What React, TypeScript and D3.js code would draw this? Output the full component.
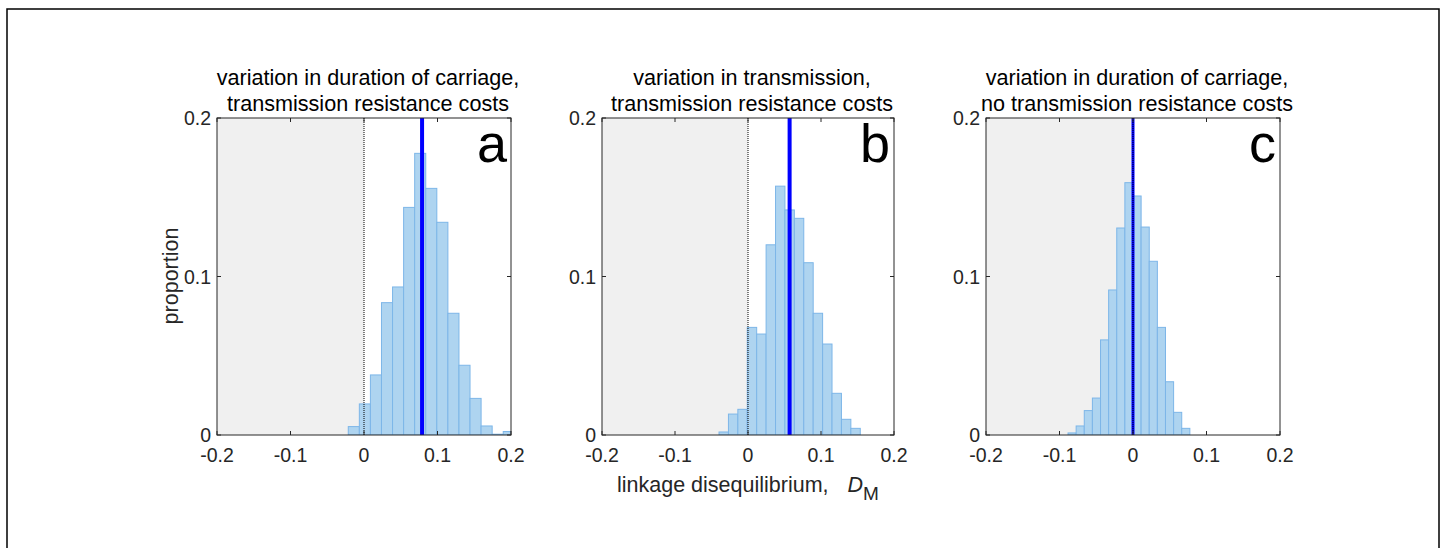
import React from "react";
import * as d3 from "d3";

// ---------- data ----------
const panelLetters = ["a", "b", "c"];
const titleLines = [
  ["variation in duration of carriage,", "transmission resistance costs"],
  ["variation in transmission,", "transmission resistance costs"],
  ["variation in duration of carriage,", "no transmission resistance costs"],
];
const xTickValues = [-0.2, -0.1, 0, 0.1, 0.2];
const xTickLabels = ["-0.2", "-0.1", "0", "0.1", "0.2"];
const yTickValues = [0, 0.1, 0.2];
const yTickLabels = ["0", "0.1", "0.2"];

const proportionsA = [0.0053, 0.0196, 0.0379, 0.0835, 0.0934, 0.1436, 0.1777, 0.1556, 0.1342, 0.0768, 0.044, 0.0231, 0.0057, 0.0005, 0.0022];
const firstEdgeA = -0.0214;
const binWidthA = 0.01506;
const meanA = 0.079;

const proportionsB = [0.0019, 0.0132, 0.0162, 0.0679, 0.0637, 0.12, 0.157, 0.142, 0.1367, 0.1087, 0.0768, 0.0574, 0.0263, 0.0099, 0.0042];
const firstEdgeB = -0.0397;
const binWidthB = 0.0129;
const meanB = 0.057;

const proportionsC = [0.0013, 0.0057, 0.0154, 0.0233, 0.06, 0.0915, 0.1306, 0.1592, 0.1508, 0.1312, 0.1096, 0.0679, 0.0336, 0.0143, 0.0042];
const firstEdgeC = -0.0884;
const binWidthC = 0.01105;
const meanC = 0.0;

const panelsData = [
  { values: proportionsA, start: firstEdgeA, width: binWidthA, mean: meanA },
  { values: proportionsB, start: firstEdgeB, width: binWidthB, mean: meanB },
  { values: proportionsC, start: firstEdgeC, width: binWidthC, mean: meanC },
];

// ---------- layout ----------
const W = 1445;
const H = 548;
const axLefts = [217, 602, 986];
const axWidths = [294, 292, 294];
const axTop = 118;
const axBottom = 435;
const FONT = "Liberation Sans, Arial, Helvetica, sans-serif";
const axisColor = "#262626";
const barFill = "rgb(174,212,240)";
const barStroke = "rgb(125,182,232)";

function Panel({ idx }: { idx: number }) {
  const d = panelsData[idx];
  const x0 = axLefts[idx];
  const x1 = x0 + axWidths[idx];
  const x = d3.scaleLinear().domain([-0.2, 0.2]).range([x0, x1]);
  const y = d3.scaleLinear().domain([0, 0.2]).range([axBottom, axTop]);
  const clipId = `clip-${idx}`;
  const tickLen = 4;
  const cx = (x0 + x1) / 2;
  return (
    <g>
      <defs>
        <clipPath id={clipId}>
          <rect x={x0} y={axTop} width={x1 - x0} height={axBottom - axTop} />
        </clipPath>
      </defs>
      {/* negative-region shading */}
      <rect x={x0} y={axTop} width={x(0) - x0} height={axBottom - axTop} fill="#f0f0f0" />
      <g clipPath={`url(#${clipId})`}>
        {d.values.map((v, i) => {
          const a = d.start + i * d.width;
          const b = a + d.width;
          return (
            <rect
              key={i}
              x={x(a)}
              y={y(v)}
              width={x(b) - x(a)}
              height={axBottom - y(v)}
              fill={barFill}
              stroke={barStroke}
              strokeWidth={1}
            />
          );
        })}
        <line x1={x(d.mean)} x2={x(d.mean)} y1={axTop} y2={axBottom} stroke="#0000ff" strokeWidth={idx === 2 ? 3 : 4} />
        <line x1={x(0)} x2={x(0)} y1={axTop} y2={axBottom} stroke="#000" strokeWidth={1} strokeDasharray="1,1" />
      </g>
      {/* box */}
      <rect x={x0} y={axTop} width={x1 - x0} height={axBottom - axTop} fill="none" stroke={axisColor} strokeWidth={1} />
      {/* ticks */}
      {xTickValues.map((t, i) => (
        <g key={"xt" + i}>
          <line x1={x(t)} x2={x(t)} y1={axBottom} y2={axBottom - tickLen} stroke={axisColor} />
          <line x1={x(t)} x2={x(t)} y1={axTop} y2={axTop + tickLen} stroke={axisColor} />
          <text x={x(t)} y={axBottom + 27} textAnchor="middle" fontSize={19.5} fill={axisColor} fontFamily={FONT}>
            {xTickLabels[i]}
          </text>
        </g>
      ))}
      {yTickValues.map((t, i) => (
        <g key={"yt" + i}>
          <line x1={x0} x2={x0 + tickLen} y1={y(t)} y2={y(t)} stroke={axisColor} />
          <line x1={x1} x2={x1 - tickLen} y1={y(t)} y2={y(t)} stroke={axisColor} />
          <text x={x0 - 6} y={y(t) + 7} textAnchor="end" fontSize={19.5} fill={axisColor} fontFamily={FONT}>
            {yTickLabels[i]}
          </text>
        </g>
      ))}
      {/* title */}
      {titleLines[idx].map((line, i) => (
        <text key={"ti" + i} x={cx + 4} y={85 + i * 26} textAnchor="middle" fontSize={21.6} fill="#000" fontFamily={FONT}>
          {line}
        </text>
      ))}
      {/* panel letter */}
      <text x={x1 - 4} y={axTop + 44} textAnchor="end" fontSize={54} fill="#000" fontFamily={FONT}>
        {panelLetters[idx]}
      </text>
    </g>
  );
}

export default function App() {
  return (
    <svg
      width={W}
      height={H}
      viewBox={`0 0 ${W} ${H}`}
      style={{ position: "absolute", left: 0, top: 0, background: "#fff" }}
    >
      <rect x={0} y={0} width={W} height={H} fill="#fff" />
      <path d={`M7,${H} L7,9 L1439,9 L1439,${H}`} fill="none" stroke="#000" strokeWidth={1.5} />
      {[0, 1, 2].map((i) => (
        <Panel key={i} idx={i} />
      ))}
      <text
        transform={`translate(178,276) rotate(-90)`}
        textAnchor="middle"
        fontSize={21.5}
        fill={axisColor}
        fontFamily={FONT}
      >
        proportion
      </text>
      <text x={617} y={492} fontSize={21.5} fill={axisColor} fontFamily={FONT}>
        {"linkage disequilibrium,\u00a0\u00a0"}
        <tspan fontStyle="italic" dx={7}>D</tspan>
        <tspan fontSize={19} dy={8}>M</tspan>
      </text>
    </svg>
  );
}
